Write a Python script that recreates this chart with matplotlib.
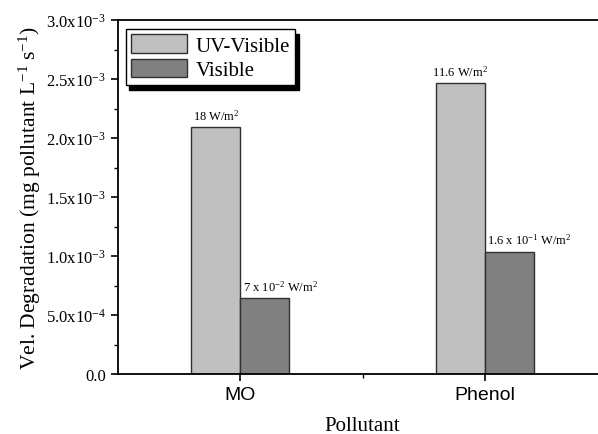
import matplotlib
matplotlib.use("Agg")
import matplotlib.pyplot as plt
from matplotlib.ticker import FixedLocator, MultipleLocator

plt.rcParams["mathtext.fontset"] = "custom"
plt.rcParams["mathtext.rm"] = "Liberation Serif"
plt.rcParams["mathtext.it"] = "Liberation Serif:italic"
plt.rcParams["font.family"] = "Liberation Serif"

pollutants = ["MO", "Phenol"]
uv_visible = [2.093e-3, 2.466e-3]
visible = [0.644e-3, 1.036e-3]
uv_labels = ["18 W/m$^{2}$", "11.6 W/m$^{2}$"]
vis_labels = ["7 x 10$^{-2}$ W/m$^{2}$", "1.6 x 10$^{-1}$ W/m$^{2}$"]
yticks = [0, 0.5e-3, 1.0e-3, 1.5e-3, 2.0e-3, 2.5e-3, 3.0e-3]
ytick_labels = ["0.0", "5.0x10$^{-4}$", "1.0x10$^{-3}$", "1.5x10$^{-3}$",
                "2.0x10$^{-3}$", "2.5x10$^{-3}$", "3.0x10$^{-3}$"]

fig = plt.figure(figsize=(5.98, 4.35), dpi=100)
# right edge runs past the canvas as in the original crop
ax = fig.add_axes([118 / 598, 60 / 435, 489 / 598, 354 / 435])

pos = [1, 2]
w = 0.2
b1 = ax.bar([p - w / 2 for p in pos], uv_visible, width=w, color="#c0c0c0",
            edgecolor="#303030", linewidth=1, label="UV-Visible")
b2 = ax.bar([p + w / 2 for p in pos], visible, width=w, color="#808080",
            edgecolor="#303030", linewidth=1, label="Visible")

for rect, txt in zip(b1, uv_labels):
    ax.text(rect.get_x() + rect.get_width() / 2, rect.get_height() + 0.04e-3, txt,
            ha="center", va="bottom", fontsize=9)
for rect, txt in zip(b2, vis_labels):
    ax.text(rect.get_x() + 0.01, rect.get_height() + 0.04e-3, txt,
            ha="left", va="bottom", fontsize=9)

ax.set_xlim(0.5, 2.5)
ax.set_ylim(0, 3.0e-3)
ax.set_xticks(pos)
ax.set_xticklabels(pollutants, family="Liberation Sans", fontsize=14)
ax.xaxis.set_minor_locator(FixedLocator([1.5]))
ax.set_yticks(yticks)
ax.set_yticklabels(ytick_labels, fontsize=12)
ax.yaxis.set_minor_locator(MultipleLocator(0.25e-3))
ax.tick_params(direction="out", which="major", length=5, width=1.2)
ax.tick_params(direction="out", which="minor", length=3, width=1)
for s in ax.spines.values():
    s.set_linewidth(1.3)

ax.set_xlabel("Pollutant", fontsize=15)
ax.xaxis.set_label_coords(0.5, -0.118)
ax.set_ylabel("Vel. Degradation (mg pollutant L$^{-1}$ s$^{-1}$)", fontsize=15.5, labelpad=2)

leg = ax.legend(loc="upper left", fontsize=15, frameon=True, fancybox=False,
                shadow={"color": "black", "alpha": 1, "ox": 2.5, "oy": -3.5},
                handlelength=2.7, handleheight=1.0, borderpad=0.25, labelspacing=0.15,
                handletextpad=0.4, borderaxespad=0, bbox_to_anchor=(0.016, 0.975))
leg.get_frame().set_edgecolor("black")
leg.get_frame().set_linewidth(1)

fig.savefig("out.png", dpi=100)
